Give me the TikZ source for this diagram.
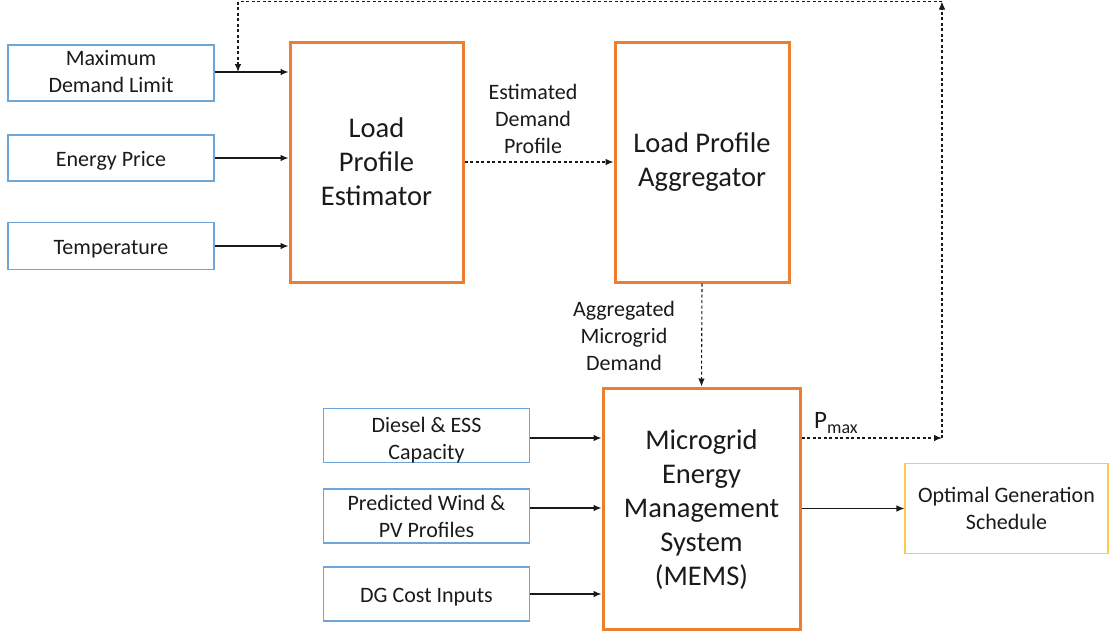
\documentclass[tikz,border=0pt]{standalone}
\usepackage{fontspec}
\setmainfont{Carlito}
\usetikzlibrary{arrows.meta}
\definecolor{inblue}{HTML}{6FA6D8}
\definecolor{borange}{HTML}{ED7D31}
\definecolor{gold}{HTML}{FFC94D}
\definecolor{txt}{HTML}{1A1A1A}
\newcommand{\lowtext}[2]{\raisebox{-#1}[\height][\depth]{\begin{tabular}{@{}c@{}}#2\end{tabular}}}
\tikzset{
  inbox/.style={draw=inblue, line width=1.1pt, minimum width=206pt, minimum height=#1, align=center, text=txt, font=\fontsize{22}{27}\selectfont, inner sep=0pt},
  bigbox/.style={draw=borange, line width=3pt, align=center, text=txt, font=\fontsize{28.5}{34}\selectfont, inner sep=0pt},
  lbl/.style={align=center, text=txt, font=\fontsize{22}{27}\selectfont, inner sep=0pt},
  arr/.style={draw=black!90, line width=1.1pt, -{Latex[length=8pt,width=6.5pt]}},
  darr/.style={arr, dashed, dash pattern=on 3pt off 2.5pt},
  dline/.style={draw=black!90, line width=1.1pt, dashed, dash pattern=on 3pt off 2.5pt}
}
\begin{document}
\begin{tikzpicture}[x=1pt,y=-1pt]
\useasboundingbox (0,0) rectangle (1109,635);
% input boxes
\node[inbox=56pt] (mdl) at (111,73) {\lowtext{1pt}{Maximum\\Demand Limit}};
\node[inbox=46pt] (ep) at (111,158) {\lowtext{3.5pt}{Energy Price}};
\node[inbox=47pt] (tmp) at (111,246) {\lowtext{3pt}{Temperature}};
% main blocks
\node[bigbox, minimum width=173pt, minimum height=240pt] (lpe) at (376.5,162) {Load\\Profile\\Estimator};
\node[bigbox, minimum width=174pt, minimum height=240pt] (lpa) at (702,162) {Load Profile\\Aggregator};
\node[bigbox, minimum width=197pt, minimum height=241pt] (mems) at (701.5,508.5) {\lowtext{2pt}{Microgrid\\Energy\\Management\\System\\(MEMS)}};
% MEMS inputs
\node[inbox=53pt] (dsl) at (426.5,435.5) {\lowtext{5pt}{Diesel \& ESS\\Capacity}};
\node[inbox=54pt] (wind) at (426.5,516) {Predicted Wind \&\\PV Profiles};
\node[inbox=54pt] (dg) at (426.5,594) {\lowtext{3pt}{DG Cost Inputs}};
% output
\node[draw=gold, line width=1.1pt, minimum width=203pt, minimum height=90pt, align=center, text=txt, font=\fontsize{22}{27}\selectfont, inner sep=0pt] (ogs) at (1006.5,508.5) {Optimal Generation\\Schedule};
% labels
\node[lbl] (edp) at (533,119) {Estimated\\Demand\\Profile};
\node[lbl] (amd) at (624,336) {Aggregated\\Microgrid\\Demand};
\node[text=txt, inner sep=0pt, anchor=base west] (pmax) at (814,428) {\fontsize{25}{25}\selectfont P\raisebox{-5pt}{\fontsize{18}{18}\selectfont max}};
% coordinates
\coordinate (pr) at (942,438);
\coordinate (pt) at (942,1.5);
\coordinate (tl) at (238,1.5);
\coordinate (tj) at (238,72);
% arrows
\draw[arr] (mdl.east |- 0,72) -- (lpe.west |- 0,72);
\draw[arr] (ep.east) -- (lpe.west |- ep.east);
\draw[arr] (tmp.east) -- (lpe.west |- tmp.east);
\draw[darr] (lpe.east |- 0,162) -- (lpa.west |- 0,162);
\draw[darr] (lpa.south) -- (mems.north);
\draw[arr] (dsl.east |- 0,438) -- (mems.west |- 0,438);
\draw[arr] (wind.east |- 0,508) -- (mems.west |- 0,508);
\draw[arr] (dg.east) -- (mems.west |- dg.east);
\draw[arr] (mems.east |- ogs.west) -- (ogs.west);
\draw[darr] (mems.east |- pr) -- (pr);
\draw[darr] (pr) -- (pt);
\draw[dline] (pt) -- (tl);
\draw[darr] (tl) -- (tj);
\end{tikzpicture}
\end{document}
